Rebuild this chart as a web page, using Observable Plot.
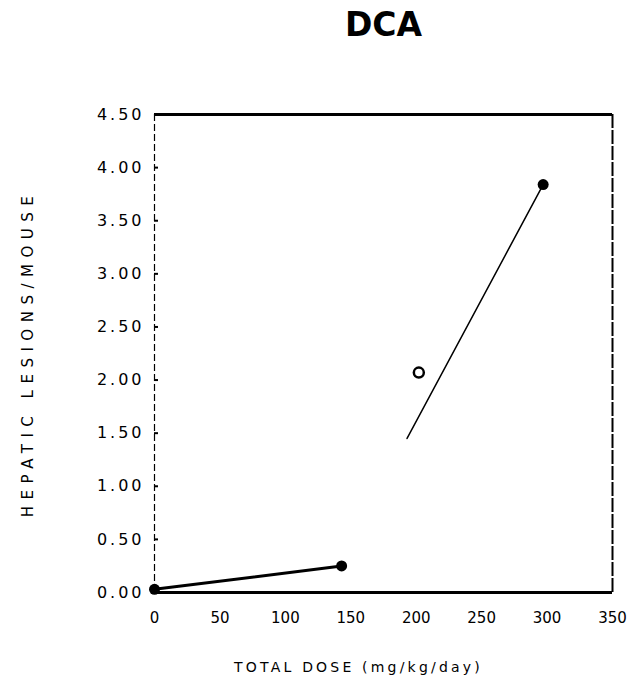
<!DOCTYPE html>
<html>
<head>
<meta charset="utf-8">
<script src="https://cdn.jsdelivr.net/npm/d3@7"></script>
<script src="https://cdn.jsdelivr.net/npm/@observablehq/plot@0.6"></script>
<style>
  html, body { margin: 0; padding: 0; background: #fff; }
  #chart svg { display: block; }
  #chart [aria-label="y-axis tick label"] text { letter-spacing: 3px; font-size: 16px; }
</style>
</head>
<body>
<div id="chart"></div>
<script>
// ---- data ----
const title = "DCA";
const xLabel = "TOTAL DOSE (mg/kg/day)";
const yLabel = "HEPATIC LESIONS/MOUSE";
const xTicks = [0, 50, 100, 150, 200, 250, 300, 350];
const yTicks = [0, 0.5, 1, 1.5, 2, 2.5, 3, 3.5, 4, 4.5];

// filled points (observed)
const filledDose = [0, 143, 297];
const filledLesions = [0.03, 0.25, 3.84];
// open point
const openDose = [202];
const openLesions = [2.07];
// thick low-dose segment
const lowLineDose = [0, 143];
const lowLineLesions = [0.03, 0.25];
// thin segment (visible part of the line in the scan)
const highLineDose = [193, 297];
const highLineLesions = [1.45, 3.84];

const toRows = (xs, ys) => xs.map((x, i) => ({dose: x, lesions: ys[i]}));
const filled = toRows(filledDose, filledLesions);
const open = toRows(openDose, openLesions);
const lowLine = toRows(lowLineDose, lowLineLesions);
const highLine = toRows(highLineDose, highLineLesions);

const chart = Plot.plot({
  width: 639,
  height: 686,
  marginLeft: 154,
  marginRight: 27,
  marginTop: 114,
  marginBottom: 94,
  style: {fontFamily: "DejaVu Sans", fontSize: "15px", color: "#000", background: "#fff"},
  x: {domain: [0, 350], ticks: xTicks},
  y: {domain: [0, 4.5], ticks: yTicks},
  marks: [
    // frame
    Plot.ruleX([0], {stroke: "#000", strokeWidth: 1.2, strokeDasharray: "7,3"}),
    Plot.ruleX([350], {stroke: "#000", strokeWidth: 2, strokeDasharray: "14,2"}),
    Plot.ruleY([4.5], {stroke: "#000", strokeWidth: 3}),
    Plot.ruleY([0], {stroke: "#000", strokeWidth: 3}),
    // inward y ticks
    Plot.tickY(yTicks.slice(1, -1), {y: d => d, stroke: "#000", strokeWidth: 2, insetRight: 454}),
    Plot.axisY({ticks: yTicks, tickSize: 0, tickPadding: 10, tickFormat: d3.format(".2f"), label: null}),
    Plot.axisX({ticks: xTicks, tickSize: 0, tickPadding: 20, tickFormat: d3.format("d"), label: null}),
    // lines
    Plot.line(lowLine, {x: "dose", y: "lesions", stroke: "#000", strokeWidth: 3}),
    Plot.line(highLine, {x: "dose", y: "lesions", stroke: "#000", strokeWidth: 1.5}),
    // points
    Plot.dot(filled, {x: "dose", y: "lesions", r: 5.5, fill: "#000", stroke: "none"}),
    Plot.dot(open, {x: "dose", y: "lesions", r: 5, fill: "#fff", stroke: "#000", strokeWidth: 2.5}),
    // texts
    Plot.text([title], {frameAnchor: "top", lineAnchor: "middle", dy: -89, text: d => d, fontSize: 33, fontWeight: "bold", fill: "#000"}),
    Plot.text([xLabel], {frameAnchor: "bottom", lineAnchor: "middle", dy: 75, dx: -25, text: d => d, fontSize: 14, fill: "#000"}),
    Plot.text([yLabel], {frameAnchor: "left", textAnchor: "middle", lineAnchor: "middle", dx: -126, rotate: -90, text: d => d, fontSize: 15, fill: "#000"})
  ]
});
document.getElementById("chart").appendChild(chart);
// letter spacing for axis titles
chart.querySelectorAll("text").forEach(t => {
  if (t.textContent === xLabel) t.setAttribute("letter-spacing", "3.2");
  if (t.textContent === yLabel) t.setAttribute("letter-spacing", "6.5");
});
</script>
</body>
</html>
